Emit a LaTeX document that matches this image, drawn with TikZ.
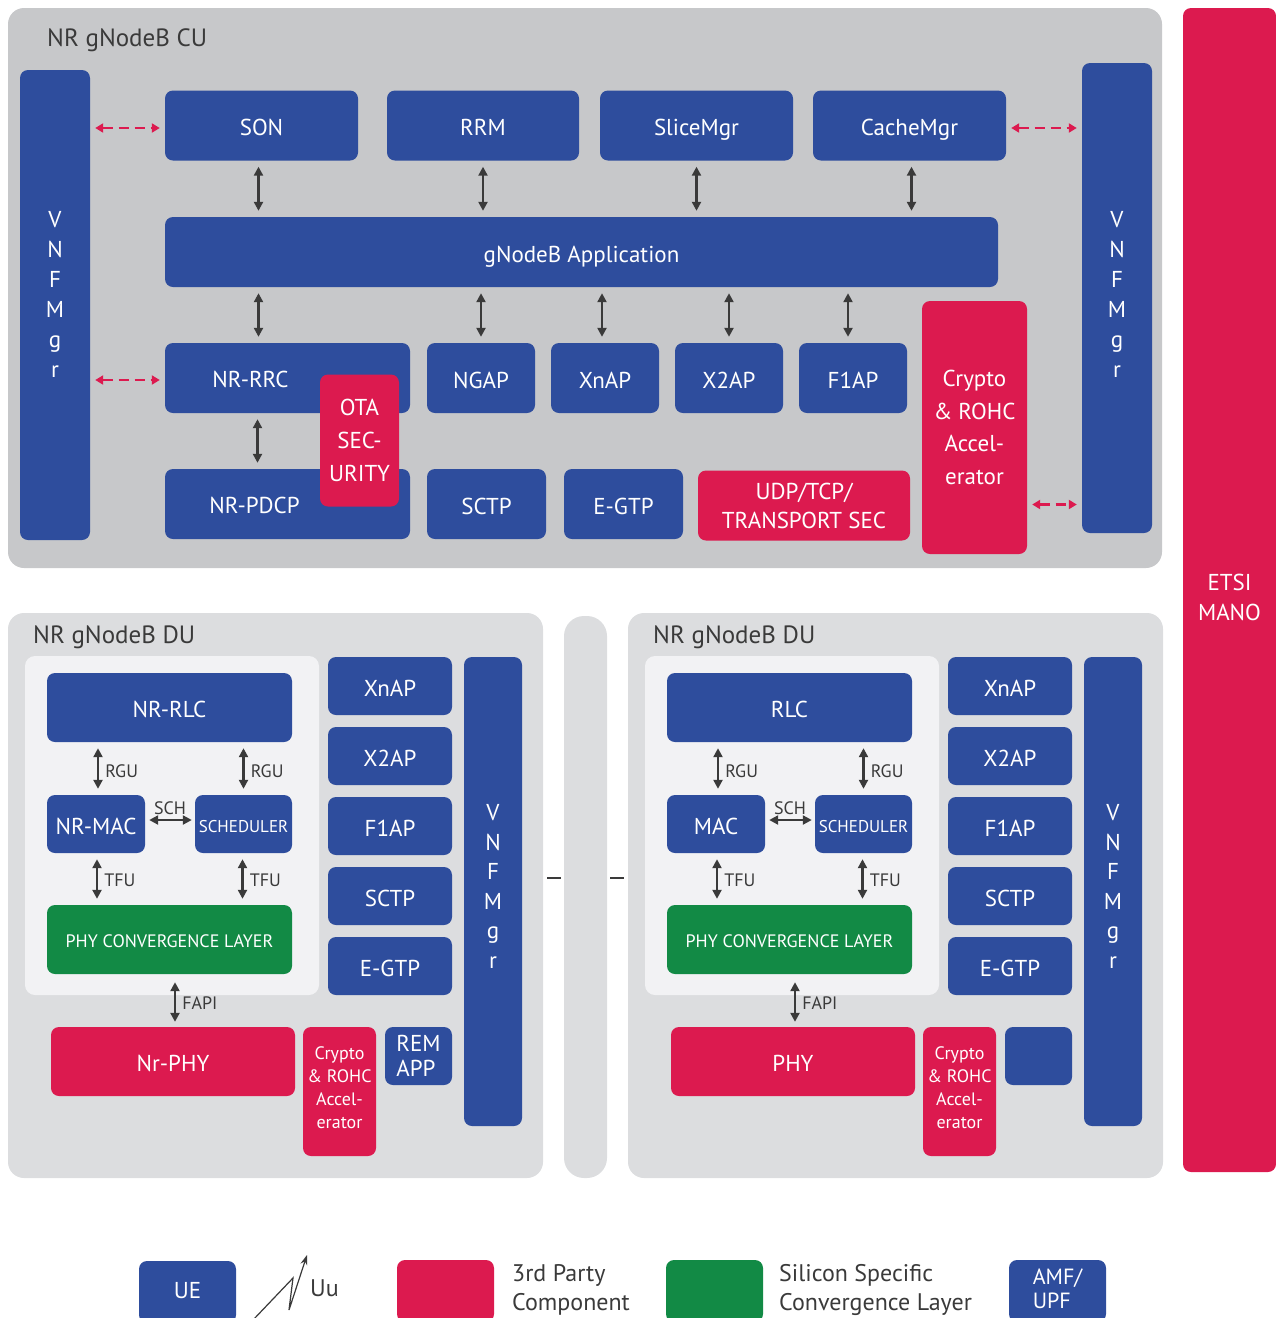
\documentclass[tikz,border=0pt]{standalone}
\usepackage{fontspec}
\setmainfont{PT Sans}
\usetikzlibrary{arrows.meta}

\definecolor{nrblue}{HTML}{2E4D9D}
\definecolor{nrred}{HTML}{DC1A4F}
\definecolor{nrgreen}{HTML}{128A45}
\definecolor{nrdark}{HTML}{3A3A3A}
\definecolor{cubg}{HTML}{C7C8CA}
\definecolor{dubg}{HTML}{DCDDDF}
\definecolor{duin}{HTML}{F2F2F4}

\newcommand{\fs}[2]{\fontsize{#1}{#2}\selectfont}

\tikzset{
  bx/.style 2 args={rounded corners=8pt, minimum width=#1, minimum height=#2,
    inner sep=0pt, text=white, font=\fs{23}{28}, align=center,
    text height=20pt, text depth=0pt},
  bbox/.style 2 args={bx={#1}{#2}, fill=nrblue},
  rbox/.style 2 args={bx={#1}{#2}, fill=nrred},
  gbox/.style 2 args={bx={#1}{#2}, fill=nrgreen},
  multi/.style={text height=, text depth=},
  panel/.style 2 args={rounded corners=16pt, minimum width=#1, minimum height=#2, inner sep=0pt},
  lab/.style={text=white, font=\fs{23}{28}, align=center},
  vlet/.style={font=\fs{23}{30}},
  dbl/.style={{Triangle[length=9pt,width=9pt]}-{Triangle[length=9pt,width=9pt]},
    line width=2.6pt, draw=nrdark, shorten <=6pt, shorten >=6pt},
  mgmt/.style={{Triangle[length=8pt,width=9pt]}-{Triangle[length=8pt,width=9pt]},
    line width=2.6pt, draw=nrred, dash pattern=on 10pt off 6pt, shorten <=5pt, shorten >=5pt},
  lbl/.style={font=\fs{18}{20}, text=nrdark, inner sep=2pt},
  ttl/.style={font=\fs{25}{30}, text=nrdark, inner sep=0pt, anchor=base west},
  legtxt/.style={font=\fs{24}{29}, text=nrdark, inner sep=0pt, anchor=west, align=left},
}

\begin{document}
\begin{tikzpicture}[x=1pt, y=-1pt]
\clip (0,0) rectangle (1276,1318);

% CU
\node[panel={1154}{560}, fill=cubg] (cu) at (585,288) {};
\node[ttl] at (47,46) {NR gNodeB CU};

\node[bbox={70}{470}, label={[lab, vlet, yshift=11pt]center:V\\N\\F\\M\\g\\r}] (vnfl) at (55,305) {};
\node[bbox={70}{470}, label={[lab, vlet, yshift=4pt]center:V\\N\\F\\M\\g\\r}] (vnfr) at (1117,298) {};

\node[bbox={193}{70}] (son) at (261.5,125.5) {SON};
\node[bbox={192}{70}] (rrm) at (483,125.5) {RRM};
\node[bbox={193}{70}] (slice) at (696.5,125.5) {SliceMgr};
\node[bbox={193}{70}] (cache) at (909.5,125.5) {CacheMgr};

\node[bbox={833}{70}] (app) at (581.5,252) {gNodeB Application};

\node[bbox={245}{70}, label={[lab, xshift=-37pt, yshift=-1pt]center:NR-RRC}] (nrrrc) at (287.5,378) {};
\node[bbox={108}{70}] (ngap) at (481,378) {NGAP};
\node[bbox={108}{70}] (xnap) at (605,378) {XnAP};
\node[bbox={108}{70}] (x2ap) at (729,378) {X2AP};
\node[bbox={108}{70}] (f1ap) at (853,378) {F1AP};

\node[bbox={245}{70}, label={[lab, xshift=-33pt, yshift=-1pt]center:NR-PDCP}] (nrpdcp) at (287.5,504) {};
\node[bbox={119}{70}] (sctp) at (486.5,504) {SCTP};
\node[bbox={119}{70}] (egtp) at (623.5,504) {E-GTP};
\node[rbox={212}{70}, multi, font=\fs{23}{29}] (udp) at (804,505.5) {UDP/TCP/\\TRANSPORT SEC};

\node[rbox={79}{132}, multi, font=\fs{23}{33}] (ota) at (359.5,440.5) {OTA\\SEC-\\URITY};
\node[rbox={105}{253}, multi, font=\fs{23}{32.7}] (crypto) at (974.5,427.5) {Crypto\\\& ROHC\\Accel-\\erator};

\node[rbox={93}{1164}, label={[lab, yshift=-7pt, font=\fs{23}{30}]center:ETSI\\MANO}] (mano) at (1229.5,590) {};

\draw[dbl] ([xshift=-3pt]son.south) -- ([xshift=-3pt]son.south |- app.north);
\draw[dbl] (rrm.south) -- (rrm.south |- app.north);
\draw[dbl] (slice.south) -- (slice.south |- app.north);
\draw[dbl] ([xshift=2pt]cache.south) -- ([xshift=2pt]cache.south |- app.north);

\draw[dbl] ([xshift=-29pt]nrrrc.north |- app.south) -- ([xshift=-29pt]nrrrc.north);
\draw[dbl] (ngap.north |- app.south) -- (ngap.north);
\draw[dbl] ([xshift=-3pt]xnap.north |- app.south) -- ([xshift=-3pt]xnap.north);
\draw[dbl] (x2ap.north |- app.south) -- (x2ap.north);
\draw[dbl] ([xshift=-5pt]f1ap.north |- app.south) -- ([xshift=-5pt]f1ap.north);
\draw[dbl] ([xshift=-30pt]nrrrc.south) -- ([xshift=-30pt]nrpdcp.north);

\draw[mgmt] ([yshift=-2.5pt]vnfl.east |- son) -- ([yshift=-2.5pt]son.west);
\draw[mgmt] ([yshift=-2pt]vnfl.east |- nrrrc) -- ([yshift=-2pt]nrrrc.west);
\draw[mgmt] ([yshift=-2.5pt]cache.east) -- ([yshift=-2.5pt]vnfr.west |- cache);
\draw[mgmt] ([yshift=-77pt]crypto.east) -- ([yshift=-77pt]crypto.east -| vnfr.west);

% DU x2
\node[panel={43}{562}, fill=dubg, rounded corners=20pt] (gap) at (585.5,897) {};
\foreach \dx/\s/\rlc/\mac/\phy/\rem in {0/a/NR-RLC/NR-MAC/Nr-PHY/{REM\\APP},620/b/RLC/MAC/PHY/{}}{
\begin{scope}[xshift=\dx]
\node[panel={535}{565}, fill=dubg] (du\s) at (275.5,895.5) {};
\node[ttl] at (33,643) {NR gNodeB DU};
\node[panel={294}{339}, fill=duin, rounded corners=10pt] (in\s) at (172,825.5) {};

\node[bbox={245}{69}] (rlc\s) at (169.5,707.5) {\rlc};
\node[bbox={98}{58}] (mac\s) at (96,824) {\mac};
\node[bbox={97}{58}, font=\fs{17}{20}, text height=16pt] (sch\s) at (243.5,824) {SCHEDULER};
\node[gbox={245}{69}, font=\fs{18}{20}, text height=16pt] (phyc\s) at (169.5,939.5) {PHY CONVERGENCE LAYER};

\node[rbox={244}{69}] (phy\s) at (173,1061.5) {\phy};
\node[rbox={73}{129}, label={[lab, yshift=4pt, font=\fs{18}{23}]center:Crypto\\\& ROHC\\Accel-\\erator}] (cry\s) at (339.5,1091.5) {};
\node[bbox={67}{58}, multi, align=left, font=\fs{23}{25}] (rem\s) at (418.5,1056) {\rem};

\node[bbox={124}{58}] (xnap\s) at (390,686) {XnAP};
\node[bbox={124}{58}] (x2ap\s) at (390,756) {X2AP};
\node[bbox={124}{58}] (f1ap\s) at (390,826) {F1AP};
\node[bbox={124}{58}] (sctp\s) at (390,896) {SCTP};
\node[bbox={124}{58}] (egtp\s) at (390,966) {E-GTP};
\node[bbox={58}{469}, label={[lab, font=\fs{23}{29.6}, yshift=5pt]center:V\\N\\F\\M\\g\\r}] (vnf\s) at (493,891.5) {};

\draw[dbl] ([xshift=2pt]mac\s.north |- rlc\s.south) -- ([xshift=2pt]mac\s.north)
  node[lbl, right, midway, xshift=4pt, yshift=-3pt] {RGU};
\draw[dbl] (sch\s.north |- rlc\s.south) -- (sch\s.north)
  node[lbl, right, midway, xshift=4pt, yshift=-3pt] {RGU};
\draw[dbl, shorten <=4pt, shorten >=3pt] ([yshift=4pt]mac\s.east) -- ([yshift=4pt]sch\s.west)
  node[lbl, above, midway, yshift=2pt] {SCH};
\draw[dbl] ([xshift=1pt]mac\s.south) -- ([xshift=1pt]mac\s.south |- phyc\s.north)
  node[lbl, right, midway, xshift=4pt, yshift=-1pt] {TFU};
\draw[dbl] ([xshift=-1pt]sch\s.south) -- ([xshift=-1pt]sch\s.south |- phyc\s.north)
  node[lbl, right, midway, xshift=4pt, yshift=-1pt] {TFU};
\draw[dbl, shorten <=8pt, shorten >=5pt] ([xshift=2pt]phy\s.north |- phyc\s.south) -- ([xshift=2pt]phy\s.north)
  node[lbl, right, midway, xshift=4pt, yshift=-3pt] {FAPI};
\end{scope}
}
\coordinate (lk) at (0,878);
\draw[line width=2.6pt, nrdark, shorten <=4pt, shorten >=3pt] (dua.east |- lk) -- (gap.west |- lk);
\draw[line width=2.6pt, nrdark, shorten <=3pt, shorten >=4pt] (gap.east |- lk) -- (dub.west |- lk);

% legend
\node[bbox={97}{62}, text height=13pt] (ue) at (187.5,1292) {UE};
\draw[nrdark, line width=1.2pt, -{Stealth[length=10pt,width=7pt]}]
  (253,1320) -- (293,1278) -- (289,1310) -- (307,1255);
\node[legtxt, font=\fs{24}{29}] (uu) at (310,1288) {Uu};
\node[rbox={97}{62}] (leg3p) at (445.5,1291) {};
\node[legtxt] (txt3p) at (512,1290) {3rd Party\\Component};
\node[gbox={97}{62}] (legsi) at (714.5,1291) {};
\node[legtxt] (txtsi) at (779,1290) {Silicon Specific\\Convergence Layer};
\node[bbox={97}{62}, label={[lab, font=\fs{22}{24}, align=left, yshift=2pt]center:AMF/\\UPF}] (amf) at (1057.5,1291) {};
\end{tikzpicture}
\end{document}
